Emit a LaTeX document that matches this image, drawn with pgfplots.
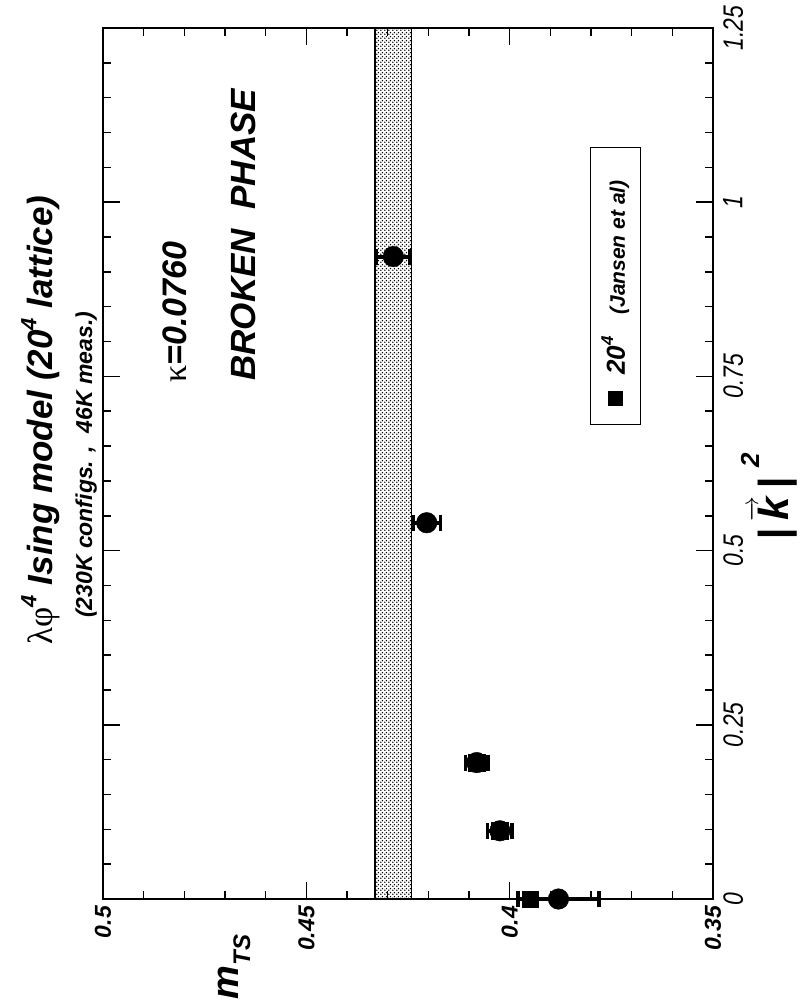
\documentclass[border=0pt]{standalone}
\usepackage{fontspec}
\setmainfont{Liberation Sans}
\newfontfamily\narrowfont[FakeStretch=0.82]{Liberation Sans}
\newfontfamily\greekfont{Liberation Serif}
\usepackage{amsmath}
\usepackage{pgfplots}
\pgfplotsset{compat=1.18}
\usetikzlibrary{patterns}
\pgfdeclarepatternformonly{mydots}{\pgfpointorigin}{\pgfpoint{4pt}{4pt}}{\pgfpoint{4pt}{4pt}}%
{\pgfpathcircle{\pgfpoint{1pt}{1pt}}{0.95pt}\pgfpathcircle{\pgfpoint{3pt}{3pt}}{0.95pt}\pgfusepath{fill}}
\newcommand{\fs}[1]{\fontsize{#1}{#1}\selectfont}
\begin{document}
\begin{tikzpicture}
\begin{axis}[
  scale only axis, width=610pt, height=871pt,
  x dir=reverse, xmin=0.35, xmax=0.5, ymin=0, ymax=1.25,
  xtick={0.35,0.4,0.45,0.5}, xticklabels={0.35,0.4,0.45,0.5},
  ytick={0,0.25,0.5,0.75,1,1.25}, yticklabels={0,0.25,0.5,0.75,1,1.25},
  minor x tick num=4, minor y tick num=4,
  tick align=inside, major tick length=17pt, minor tick length=8pt,
  axis line style={line width=2pt},
  every tick/.style={black, line width=1.5pt},
  xticklabel style={rotate=90, anchor=east, font=\fs{23}\bfseries\itshape, inner sep=0pt},
  xticklabel shift=7pt,
  yticklabel pos=right,
  yticklabel style={rotate=90, anchor=north, font=\narrowfont\itshape\fs{28}, inner sep=0pt},
  yticklabel shift=10pt,
  clip=false,
]
\path (axis cs:0.52533,-0.14925) rectangle (axis cs:0.32641,1.29018);
\addplot[draw=black, line width=1.3pt, pattern=mydots, forget plot]
  coordinates {(0.4331,0) (0.4241,0) (0.4241,1.25) (0.4331,1.25)} -- cycle;
% Jansen et al (20^4)
\addplot[only marks, mark=square*, mark size=8.3pt, black]
  coordinates {(0.395,0) (0.4024,0.0979) (0.4081,0.1958)};
% this work
\addplot[only marks, mark=*, mark size=10.3pt, black,
  error bars/.cd, x dir=both, x explicit, error mark=|,
  error bar style={line width=4pt},
  error mark options={mark size=8pt, line width=3.5pt}]
  coordinates {
   (0.388,0) +- (0.010,0)
   (0.4024,0.0979) +- (0.003,0)
   (0.4081,0.1958) +- (0.0028,0)
   (0.4204,0.540) +- (0.0034,0)
   (0.4286,0.922) +- (0.0041,0)
  };
\node[rotate=90, font=\fs{35}] at (axis description cs:-0.1028,0.550)
  {{\greekfont λφ}\raisebox{0.45em}{\fs{22}\bfseries\itshape 4} {\bfseries\itshape Ising model (20\raisebox{0.45em}{\fs{22}4} lattice)}};
\node[rotate=90, font=\fs{23}\bfseries\itshape] at (axis description cs:-0.0274,0.4986)
  {(230K configs. ,\ \ 46K meas.)};
\node[rotate=90, font=\fs{34}] at (axis description cs:0.1185,0.674)
  {{\greekfont κ}{\bfseries\itshape =0.0760}};
\node[rotate=90, font=\fs{35}\bfseries\itshape] at (axis description cs:0.230,0.7627)
  {BROKEN\ \ PHASE};
\node[rotate=90, draw=black, line width=1pt, inner sep=0pt, minimum height=50pt]
  at (axis description cs:0.8398,0.7036)
  {\makebox[277pt][l]{\hspace*{19pt}\raisebox{2pt}{\rule{15pt}{15pt}}\hspace{16pt}{\fs{26}\bfseries\itshape 20\raisebox{0.45em}{\fs{17}4}\ \ \ {\fs{21}(Jansen et al)}}}};
\node[rotate=90, font=\fs{42}\bfseries\itshape] at (axis description cs:1.092,0.462)
  {|\,$\overrightarrow{\text{\fs{42}\bfseries\itshape k}}$\,|\hspace{10pt}\raisebox{0.7em}{\fs{26}2}};
\node[rotate=90, font=\fs{38}\bfseries\itshape] at (axis description cs:0.2152,-0.0778)
  {m\raisebox{-0.3em}{\fs{24}TS}};
\end{axis}
\end{tikzpicture}
\end{document}
